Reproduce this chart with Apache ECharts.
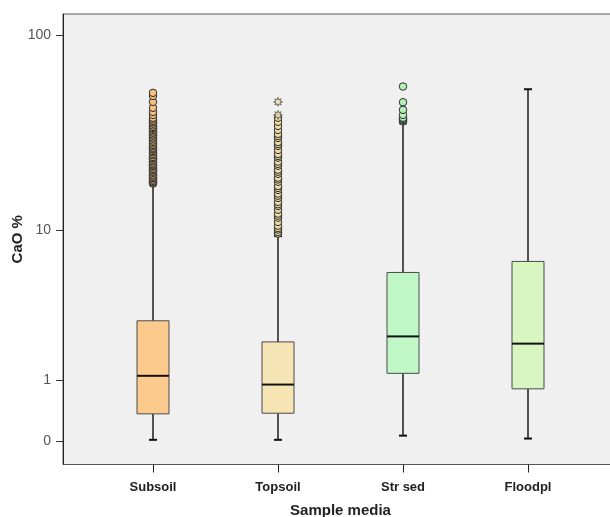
<!DOCTYPE html>
<html>
<head>
<meta charset="utf-8">
<script src="https://cdn.jsdelivr.net/npm/echarts@6/dist/echarts.min.js"></script>
<style>
html,body{margin:0;padding:0;background:#fff;}
#chart{width:610px;height:517px;}
</style>
</head>
<body>
<div id="chart"></div>
<script>
// ---- data (CaO %) ----
const categories = ['Subsoil', 'Topsoil', 'Str sed', 'Floodpl'];
// [lower whisker, Q1, median, Q3, upper whisker]
const boxStats = [
  [0.02, 0.37, 1.11, 2.94, 17.5],
  [0.02, 0.38, 0.91, 2.10, 9.3],
  [0.07, 1.17, 2.30, 5.82, 36.1],
  [0.035, 0.82, 2.04, 6.73, 53.6]
];
const subsoilOutliers = [17.7, 17.9, 18.1, 18.3, 18.6, 18.9, 19.0, 19.2, 19.5, 19.7, 20.1, 20.4, 20.7, 20.9, 21.1, 21.5,
  21.9, 22.0, 22.3, 22.7, 23.1, 23.5, 23.9, 24.0, 24.3, 24.8, 25.2, 25.7, 26.1, 26.5, 26.8, 27.1, 27.6, 28.0, 28.5, 29.0,
  29.5, 30.1, 30.6, 31.2, 31.7, 32.3, 32.8, 33.4, 33.9, 34.2, 34.6, 35.2, 35.9, 36.5, 37.1, 37.8, 38.5, 39.8, 41.2, 43.2,
  46.3, 49.6, 51.4];
const topsoilOutliers = [9.6, 9.8, 10.1, 10.3, 10.6, 11.1, 11.7, 12.0, 12.3, 12.9, 13.5, 13.8, 14.2, 14.9, 15.3, 15.7,
  16.4, 16.8, 17.2, 18.1, 18.6, 19.0, 19.9, 20.4, 20.9, 21.9, 22.4, 23.0, 24.1, 24.6, 25.2, 26.4, 27.7, 28.3, 29.0, 30.4,
  31.1, 31.9, 33.4, 35.0, 36.7, 38.5];
const topsoilExtremes = [39.8, 46.3];
const strsedOutliers = [36.9, 37.2, 37.6, 38.0, 38.5, 39.8, 42.2, 46.1, 55.3];
const floodplOutliers = [];
const yTickValues = [0, 1, 10, 100];

const boxFill = ['#fcca8d', '#f7e4b4', '#bff7c6', '#d8f6c2'];
const dotFill = ['#f3c07f', '#f0dca3', '#b4f0b8', '#d0f0b8'];

// axis transform: log10(v + 1)
const tf = v => Math.log10(v + 1);

const boxData = boxStats.map((s, i) => [i].concat(s.map(tf)));
const outlierData = [];
[subsoilOutliers, topsoilOutliers, strsedOutliers, floodplOutliers].forEach((arr, i) => {
  arr.forEach(v => outlierData.push({ value: [i, tf(v)], itemStyle: { color: dotFill[i] } }));
});
const extremeData = topsoilExtremes.map(v => [1, tf(v)]);

const FONT = "'Liberation Sans', Arial, sans-serif";

function renderBox(params, api) {
  const x = api.value(0);
  const lo = api.coord([x, api.value(1)]);
  const q1 = api.coord([x, api.value(2)]);
  const md = api.coord([x, api.value(3)]);
  const q3 = api.coord([x, api.value(4)]);
  const hi = api.coord([x, api.value(5)]);
  const band = api.size([1, 0])[0];
  const bw = band * 0.256;
  const cw = 8;
  const cx = lo[0];
  const lineStyle = { stroke: '#1e1e1e', lineWidth: 1.5 };
  return {
    type: 'group',
    children: [
      { type: 'line', shape: { x1: cx, y1: lo[1], x2: cx, y2: q1[1] }, style: lineStyle },
      { type: 'line', shape: { x1: cx, y1: q3[1], x2: cx, y2: hi[1] }, style: lineStyle },
      { type: 'line', shape: { x1: cx - cw / 2, y1: lo[1], x2: cx + cw / 2, y2: lo[1] }, style: { stroke: '#111', lineWidth: 2 } },
      { type: 'line', shape: { x1: cx - cw / 2, y1: hi[1], x2: cx + cw / 2, y2: hi[1] }, style: { stroke: '#111', lineWidth: 2 } },
      { type: 'rect', shape: { x: cx - bw / 2, y: q3[1], width: bw, height: q1[1] - q3[1] },
        style: { fill: boxFill[params.dataIndex], stroke: '#4a4a4a', lineWidth: 1 } },
      { type: 'line', shape: { x1: cx - bw / 2, y1: md[1], x2: cx + bw / 2, y2: md[1] }, style: { stroke: '#111', lineWidth: 2 } }
    ]
  };
}

const chart = echarts.init(document.getElementById('chart'), null, { renderer: 'canvas' });
const yMin = -0.113, yMax = 2.108;
chart.setOption({
  animation: false,
  backgroundColor: '#ffffff',
  textStyle: { fontFamily: FONT },
  grid: [
    { left: 63, top: 14, right: -2, bottom: 52.5, show: true, backgroundColor: '#f0f0f0', borderColor: '#555', borderWidth: 1,
      containLabel: false, outerBoundsMode: 'none' },
    { left: 90.5, top: 14, right: 19.5, bottom: 52.5, containLabel: false, outerBoundsMode: 'none' }
  ],
  xAxis: [
    { gridIndex: 0, type: 'value', show: false, min: 0, max: 1 },
    {
      gridIndex: 1, type: 'category', data: categories, boundaryGap: true,
      axisLine: { show: false, onZero: false },
      axisTick: { show: true, alignWithLabel: true, length: 8, lineStyle: { color: '#222', width: 1 } },
      axisLabel: { margin: 16, fontSize: 13, fontWeight: 'bold', color: '#222', fontFamily: FONT },
      name: 'Sample media', nameLocation: 'middle', nameGap: 39, nameMoveOverlap: false,
      nameTextStyle: { fontSize: 15, fontWeight: 'bold', color: '#222', fontFamily: FONT },
      splitLine: { show: false }
    }
  ],
  yAxis: [
    { gridIndex: 0, type: 'value', show: false, min: 0, max: 1 },
    {
      gridIndex: 1, type: 'value', min: yMin, max: yMax, offset: 27.5,
      axisLine: { show: true, onZero: false, lineStyle: { color: '#222', width: 1 } },
      axisTick: { show: true, length: 7, customValues: yTickValues.map(tf), lineStyle: { color: '#333' } },
      axisLabel: {
        margin: 12, fontSize: 14, color: '#555', fontFamily: FONT,
        customValues: yTickValues.map(tf),
        formatter: v => String(Math.round(Math.pow(10, v) - 1))
      },
      splitLine: { show: false },
      name: 'CaO %', nameLocation: 'middle', nameGap: 38, nameMoveOverlap: false,
      nameTextStyle: { fontSize: 15, fontWeight: 'bold', color: '#222', fontFamily: FONT }
    }
  ],
  series: [
    {
      type: 'custom', xAxisIndex: 1, yAxisIndex: 1,
      renderItem: renderBox,
      encode: { x: 0, y: [1, 2, 3, 4, 5] },
      data: boxData, z: 2
    },
    {
      type: 'scatter', xAxisIndex: 1, yAxisIndex: 1,
      symbol: 'circle', symbolSize: 7.5,
      itemStyle: { borderColor: '#2e2e2e', borderWidth: 1, opacity: 1 },
      data: outlierData, z: 3
    },
    {
      type: 'scatter', xAxisIndex: 1, yAxisIndex: 1,
      symbol: 'path://M0,-10 L2,-4.5 L7,-7 L4.5,-2 L10,0 L4.5,2 L7,7 L2,4.5 L0,10 L-2,4.5 L-7,7 L-4.5,2 L-10,0 L-4.5,-2 L-7,-7 L-2,-4.5 Z',
      symbolSize: 9,
      itemStyle: { color: '#f3e2a8', borderColor: '#555', borderWidth: 1 },
      data: extremeData, z: 4
    }
  ]
});
</script>
</body>
</html>
